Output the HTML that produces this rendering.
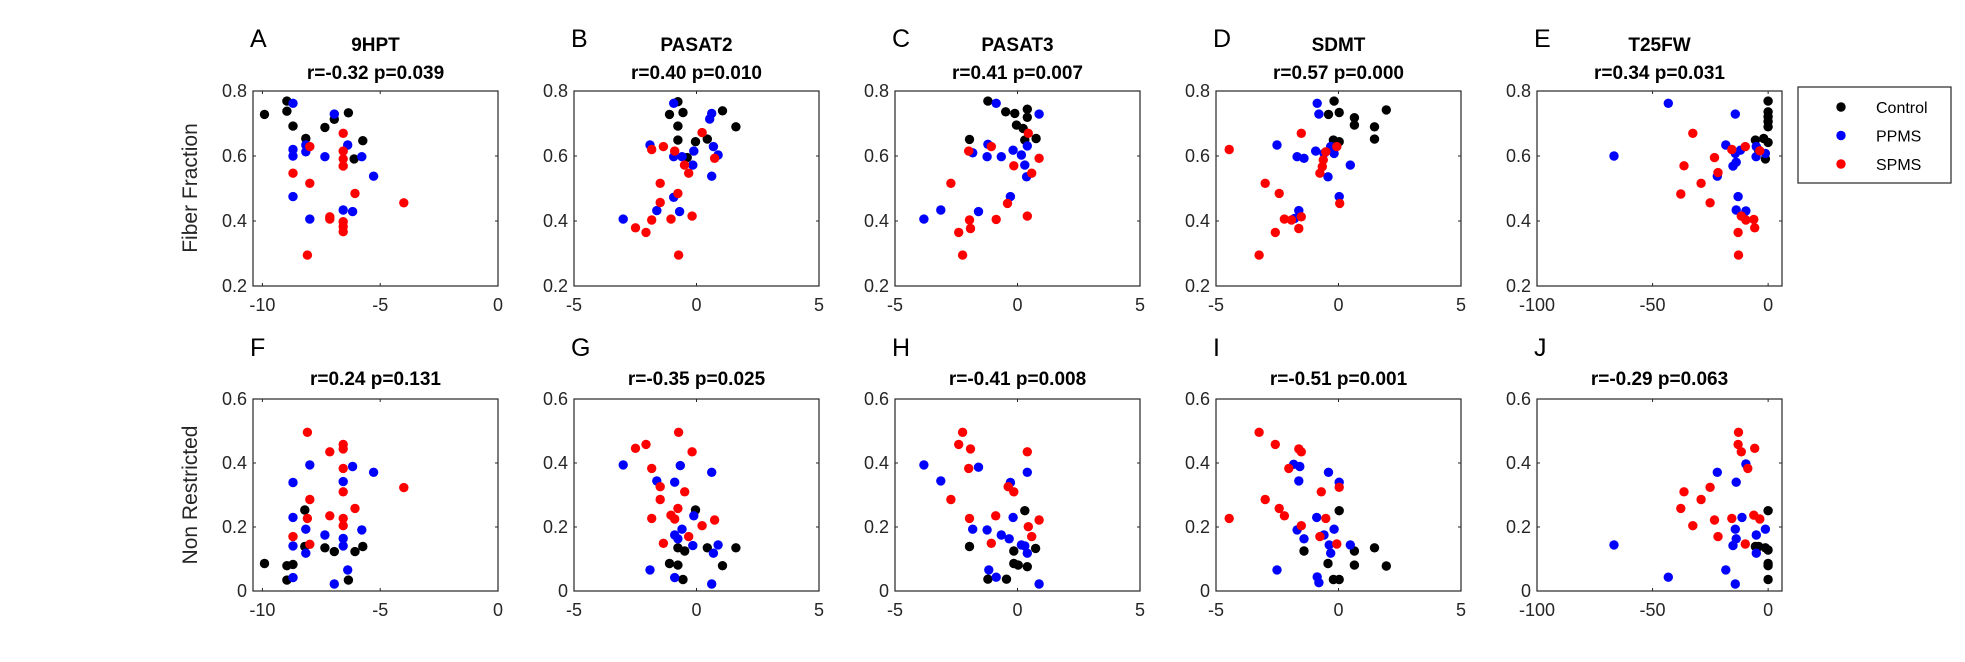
<!DOCTYPE html>
<html><head><meta charset="utf-8"><style>
html,body{margin:0;padding:0;background:#fff;}
svg{display:block;font-family:"Liberation Sans",Arial,sans-serif;}
</style></head><body>
<svg id="fig" width="1965" height="662" viewBox="0 0 1965 662"></svg>
<script>
// ---- data: [x, y] per subject ----
const A_ctrl=[[-9.91,0.728],[-8.96,0.769],[-8.96,0.738],[-8.70,0.692],[-8.16,0.654],[-7.35,0.688],[-6.95,0.713],[-6.35,0.733],[-5.74,0.647],[-6.11,0.591]];
const A_pp=[[-8.70,0.762],[-6.95,0.729],[-8.70,0.62],[-8.70,0.60],[-8.16,0.613],[-7.35,0.598],[-6.38,0.634],[-5.78,0.598],[-5.28,0.538],[-8.70,0.475],[-7.99,0.406],[-6.57,0.434],[-6.17,0.429],[-8.16,0.634]];
const A_sp=[[-6.57,0.670],[-7.99,0.629],[-6.57,0.615],[-6.57,0.591],[-6.57,0.569],[-8.70,0.547],[-7.99,0.516],[-6.07,0.485],[-4.0,0.456],[-7.14,0.413],[-7.14,0.406],[-6.57,0.398],[-6.57,0.383],[-6.57,0.367],[-8.09,0.295]];
const F_ctrl=[[-9.91,0.086],[-8.96,0.079],[-8.70,0.083],[-8.96,0.034],[-8.2,0.139],[-8.2,0.253],[-7.35,0.135],[-6.95,0.123],[-6.07,0.123],[-5.74,0.139],[-6.35,0.034]];
const F_pp=[[-8.70,0.042],[-8.70,0.141],[-8.70,0.230],[-8.16,0.193],[-8.16,0.118],[-7.35,0.175],[-6.57,0.164],[-6.57,0.141],[-5.78,0.191],[-6.95,0.022],[-6.38,0.066],[-8.70,0.339],[-7.99,0.394],[-6.17,0.389],[-5.28,0.371],[-6.57,0.342]];
const F_sp=[[-8.09,0.496],[-7.14,0.435],[-6.57,0.458],[-6.57,0.444],[-6.57,0.383],[-6.57,0.31],[-4.0,0.323],[-7.99,0.286],[-6.07,0.258],[-7.14,0.235],[-8.09,0.227],[-6.57,0.227],[-6.57,0.204],[-8.70,0.170],[-7.99,0.146]];
const B_ctrl=[[-0.76,0.767],[-1.10,0.728],[-0.55,0.734],[-0.76,0.692],[-0.76,0.649],[-0.04,0.644],[0.44,0.652],[1.06,0.739],[1.61,0.690],[-0.38,0.595]];
const B_pp=[[-0.93,0.762],[0.62,0.731],[0.54,0.714],[-1.90,0.634],[-0.93,0.598],[-0.59,0.598],[-0.11,0.615],[-0.15,0.572],[0.69,0.629],[0.88,0.603],[0.62,0.538],[-0.93,0.473],[-1.62,0.432],[-0.69,0.429],[-2.99,0.406]];
const B_sp=[[0.23,0.672],[-1.83,0.62],[-1.35,0.629],[-0.89,0.615],[0.74,0.593],[-0.49,0.572],[-0.32,0.547],[-1.48,0.516],[-0.76,0.485],[-1.48,0.457],[-1.83,0.403],[-1.04,0.406],[-0.18,0.415],[-2.49,0.379],[-2.06,0.365],[-0.73,0.295]];
const G_ctrl=[[-0.04,0.253],[-0.76,0.135],[-0.48,0.125],[0.44,0.135],[1.61,0.135],[-1.10,0.086],[-0.76,0.081],[1.06,0.079],[-0.55,0.036]];
const G_pp=[[-2.99,0.394],[-0.66,0.392],[0.62,0.371],[-1.62,0.344],[-0.89,0.340],[-0.11,0.235],[-0.59,0.193],[-0.89,0.175],[-0.76,0.163],[-0.15,0.142],[0.88,0.144],[0.69,0.118],[-1.90,0.066],[-0.89,0.042],[0.62,0.022]];
const G_sp=[[-0.73,0.496],[-2.49,0.446],[-2.06,0.458],[-0.18,0.435],[-1.83,0.383],[-1.48,0.326],[-0.48,0.31],[-1.48,0.286],[-0.76,0.258],[-1.83,0.227],[-1.04,0.237],[-0.89,0.225],[0.74,0.222],[0.23,0.204],[-0.32,0.170],[-1.35,0.149]];
const C_ctrl=[[-1.21,0.769],[-0.48,0.736],[-0.11,0.731],[0.40,0.744],[0.40,0.719],[-0.04,0.695],[0.23,0.685],[0.76,0.654],[0.30,0.649],[-1.96,0.651]];
const C_pp=[[-0.87,0.762],[0.88,0.729],[-1.21,0.636],[-1.83,0.610],[-1.24,0.598],[-0.66,0.598],[-0.18,0.618],[0.16,0.603],[0.40,0.631],[0.30,0.572],[0.37,0.536],[-0.29,0.475],[-3.13,0.434],[-1.59,0.429],[-3.82,0.406]];
const C_sp=[[0.44,0.670],[-1.07,0.629],[-1.99,0.615],[0.88,0.593],[-0.15,0.570],[0.58,0.547],[-2.72,0.516],[-0.41,0.454],[-0.87,0.405],[0.40,0.415],[-1.96,0.403],[-1.92,0.377],[-2.40,0.365],[-2.24,0.295]];
const H_ctrl=[[0.30,0.251],[-1.96,0.139],[-0.15,0.125],[0.74,0.133],[-0.15,0.086],[0.03,0.081],[0.40,0.076],[-1.21,0.037],[-0.45,0.037]];
const H_pp=[[-3.82,0.394],[-1.59,0.387],[-3.13,0.344],[0.40,0.371],[-0.29,0.339],[-0.18,0.230],[-1.83,0.193],[-1.24,0.191],[-0.66,0.175],[-0.34,0.163],[0.16,0.144],[0.30,0.141],[0.40,0.118],[-1.17,0.066],[-0.87,0.043],[0.88,0.022]];
const H_sp=[[-2.24,0.496],[-2.40,0.458],[-1.92,0.444],[0.40,0.435],[-1.99,0.383],[-0.38,0.326],[-0.15,0.31],[-2.72,0.286],[-1.96,0.227],[-0.89,0.235],[0.88,0.222],[0.44,0.201],[0.58,0.170],[-1.07,0.149]];
const D_ctrl=[[-0.18,0.769],[-0.41,0.728],[0.03,0.734],[0.65,0.718],[0.65,0.695],[1.47,0.690],[1.47,0.652],[1.95,0.742],[-0.21,0.649],[0.03,0.644]];
const D_pp=[[-0.87,0.762],[-0.80,0.729],[-2.51,0.634],[-1.69,0.598],[-1.41,0.593],[-0.93,0.615],[-0.59,0.608],[-0.32,0.629],[-0.18,0.608],[0.48,0.572],[-0.43,0.536],[0.03,0.475],[-1.62,0.432],[-1.79,0.408]];
const D_sp=[[-1.52,0.670],[-4.46,0.62],[-0.07,0.629],[-0.52,0.613],[-0.62,0.588],[-0.66,0.567],[-0.76,0.547],[-2.99,0.516],[-2.42,0.485],[0.05,0.454],[-2.21,0.406],[-1.92,0.403],[-1.52,0.413],[-1.62,0.377],[-2.58,0.365],[-3.24,0.295]];
const I_ctrl=[[0.03,0.251],[-1.41,0.125],[0.65,0.125],[1.47,0.135],[-0.43,0.086],[0.65,0.081],[1.95,0.078],[-0.21,0.036],[0.03,0.036]];
const I_pp=[[-1.83,0.396],[-1.58,0.389],[-1.62,0.344],[-0.41,0.371],[0.03,0.340],[-0.89,0.230],[-0.18,0.193],[-1.69,0.191],[-1.41,0.163],[-0.59,0.175],[-0.38,0.144],[-0.32,0.118],[0.48,0.144],[-2.51,0.066],[-0.87,0.044],[-0.80,0.026]];
const I_sp=[[-3.24,0.496],[-2.58,0.458],[-1.62,0.444],[-1.52,0.435],[-2.03,0.383],[-0.70,0.31],[0.03,0.324],[-2.99,0.286],[-2.42,0.258],[-2.21,0.235],[-4.46,0.227],[-0.52,0.227],[-1.52,0.204],[-0.76,0.170],[-0.07,0.147]];
const E_ctrl=[[0,0.769],[0,0.736],[0,0.721],[0,0.706],[0,0.690],[-1.9,0.654],[-5.5,0.649],[0,0.642],[-1.2,0.591],[-4.1,0.618]];
const E_pp=[[-43.2,0.762],[-14.2,0.729],[-66.7,0.60],[-18.3,0.634],[-14.2,0.608],[-12.0,0.618],[-5.1,0.629],[-5.2,0.598],[-1.2,0.608],[-15.2,0.569],[-13.8,0.581],[-22.0,0.538],[-13.0,0.475],[-13.8,0.434],[-9.6,0.431]];
const E_sp=[[-32.6,0.670],[-15.7,0.62],[-9.9,0.629],[-3.6,0.616],[-23.2,0.595],[-36.4,0.570],[-21.7,0.549],[-29.0,0.516],[-37.8,0.483],[-25.1,0.456],[-11.6,0.415],[-9.6,0.403],[-6.2,0.405],[-5.8,0.379],[-13.0,0.365],[-12.8,0.295]];
const J_ctrl=[[0,0.251],[-5.5,0.139],[-1.2,0.135],[0,0.128],[0,0.086],[0,0.079],[0,0.036],[-4.1,0.139]];
const J_pp=[[-66.7,0.144],[-43.2,0.043],[-22.0,0.371],[-13.8,0.340],[-9.6,0.397],[-11.3,0.230],[-14.2,0.193],[-1.2,0.193],[-5.1,0.175],[-13.8,0.163],[-15.2,0.142],[-5.1,0.118],[-18.3,0.066],[-14.2,0.022]];
const J_sp=[[-12.8,0.496],[-13.0,0.458],[-11.6,0.435],[-5.8,0.446],[-8.8,0.383],[-25.1,0.324],[-36.4,0.31],[-29.0,0.286],[-37.8,0.258],[-23.2,0.222],[-15.7,0.227],[-6.2,0.237],[-3.6,0.225],[-32.6,0.204],[-21.7,0.170],[-9.9,0.147]];
// ---- panel labels / axes ----
const letters=["A","B","C","D","E","F","G","H","I","J"];
const measures=["9HPT","PASAT2","PASAT3","SDMT","T25FW"];
const stats=["r=-0.32 p=0.039","r=0.40 p=0.010","r=0.41 p=0.007","r=0.57 p=0.000","r=0.34 p=0.031","r=0.24 p=0.131","r=-0.35 p=0.025","r=-0.41 p=0.008","r=-0.51 p=0.001","r=-0.29 p=0.063"];
const xDomains=[[-10.4,0],[-5,5],[-5,5],[-5,5],[-100,6]];
const xTickVals=[[-10,-5,0],[-5,0,5],[-5,0,5],[-5,0,5],[-100,-50,0]];
const yTicksTop=[0.2,0.4,0.6,0.8];
const yTicksBot=[0,0.2,0.4,0.6];
const groupNames=["Control","PPMS","SPMS"];
const groupColors=["#000000","#0000ff","#ff0000"];

const panels=[[A_ctrl,A_pp,A_sp],[B_ctrl,B_pp,B_sp],[C_ctrl,C_pp,C_sp],[D_ctrl,D_pp,D_sp],[E_ctrl,E_pp,E_sp],
              [F_ctrl,F_pp,F_sp],[G_ctrl,G_pp,G_sp],[H_ctrl,H_pp,H_sp],[I_ctrl,I_pp,I_sp],[J_ctrl,J_pp,J_sp]];

const NS="http://www.w3.org/2000/svg";
const svg=document.getElementById('fig');
function mk(tag,attrs,parent,text){const e=document.createElementNS(NS,tag);for(const k in attrs)e.setAttribute(k,attrs[k]);if(text!==undefined)e.textContent=text;(parent||svg).appendChild(e);return e;}

const boxW=245, lefts=[253,574,895,1216,1537];
const rows=[{top:91,bot:286,dom:[0.2,0.8],ticks:yTicksTop},{top:399,bot:591,dom:[0,0.6],ticks:yTicksBot}];

for(let p=0;p<10;p++){
  const col=p%5,row=Math.floor(p/5),R=rows[row];
  const L=lefts[col],Rx=L+boxW;
  const xd=xDomains[col];
  const sx=v=>L+(v-xd[0])/(xd[1]-xd[0])*boxW;
  const sy=v=>R.bot-(v-R.dom[0])/(R.dom[1]-R.dom[0])*(R.bot-R.top);
  const g=mk('g',{});
  
  
  // points
  panels[p].forEach((grp,gi)=>{
    grp.forEach(pt=>{
      const c=mk('circle',{cx:sx(pt[0]).toFixed(1),cy:sy(pt[1]).toFixed(1),r:4.7,fill:groupColors[gi]},g);
      
      
    });
  });
  // box
  const b=mk('rect',{x:L,y:R.top,width:boxW,height:R.bot-R.top,fill:'none',stroke:'#262626','stroke-width':1.2},g);
  
  
  // x ticks
  xTickVals[col].forEach(v=>{
    const x=sx(v);
    mk('line',{x1:x,x2:x,y1:R.bot,y2:R.bot-3,stroke:'#262626'},g);
    mk('line',{x1:x,x2:x,y1:R.top,y2:R.top+3,stroke:'#262626'},g);
    const t=mk('text',{x:x,y:R.bot+25,'text-anchor':'middle','font-size':18,fill:'#262626'},g,String(v));
    
    
  });
  R.ticks.forEach(v=>{
    const y=sy(v);
    mk('line',{x1:L,x2:L+3,y1:y,y2:y,stroke:'#262626'},g);
    mk('line',{x1:Rx,x2:Rx-3,y1:y,y2:y,stroke:'#262626'},g);
    const t=mk('text',{x:L-6,y:y+6,'text-anchor':'end','font-size':18,fill:'#262626'},g,String(v));
    
    
  });
  // titles
  const cx=L+boxW/2;
  const st=mk('text',{x:cx,y:row?385:79,'text-anchor':'middle','font-size':19,'font-weight':'bold',fill:'#000'},g,stats[p]);
  
  
  if(row===0){
    const mt=mk('text',{x:cx,y:51,'text-anchor':'middle','font-size':19,'font-weight':'bold',fill:'#000'},g,measures[col]);
    
    
  }
  const lt=mk('text',{x:L-3,y:row?356:47,'font-size':25,fill:'#000'},g,letters[p]);
  
  
}
// y axis titles
const y1=mk('text',{x:0,y:0,transform:'translate(197,188) rotate(-90)','text-anchor':'middle','font-size':21,fill:'#262626'},svg,'Fiber Fraction');


const y2=mk('text',{x:0,y:0,transform:'translate(197,495) rotate(-90)','text-anchor':'middle','font-size':21,fill:'#262626'},svg,'Non Restricted');


// legend
const lg=mk('g',{});


mk('rect',{x:1798,y:87,width:153,height:96,fill:'#fff',stroke:'#262626','stroke-width':1.2},lg);
groupNames.forEach((n,i)=>{
  const yy=107+i*28.5;
  const e=mk('g',{},lg);
  
  
  mk('circle',{cx:1841,cy:yy,r:4.7,fill:groupColors[i]},e);
  mk('text',{x:1876,y:yy+6,'font-size':16,fill:'#000'},e,n);
});
</script>
</body></html>
